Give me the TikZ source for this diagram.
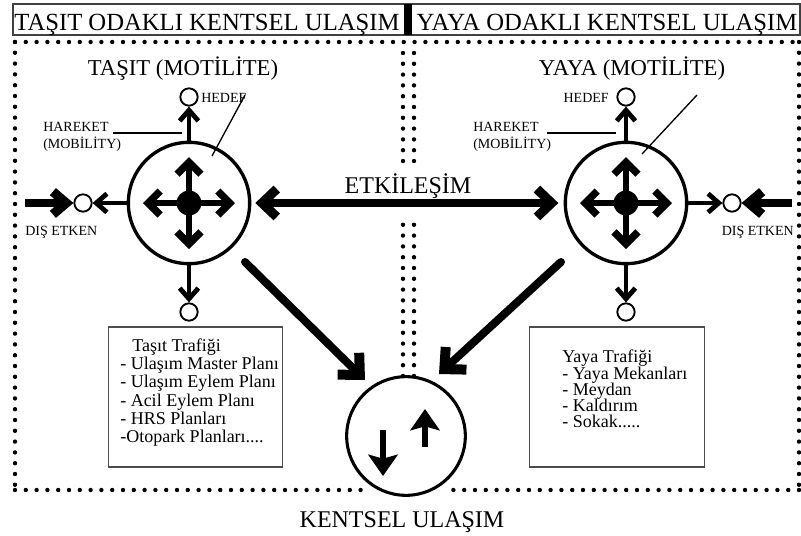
\documentclass[tikz,border=0pt]{standalone}
\usepackage{fontspec}
\setmainfont{Liberation Serif}
\usetikzlibrary{arrows.meta}
\begin{document}
\begin{tikzpicture}[x=0.75pt,y=-0.75pt,
  dots/.style={line width=3.3pt, line cap=round, dash pattern=on 0pt off 8.1pt},
  bigc/.style={circle, draw, line width=2.5pt, minimum size=91pt, inner sep=0pt, fill=white},
  smallc/.style={circle, draw, line width=1.4pt, minimum size=13pt, inner sep=0pt, fill=white},
  thinarr/.style={line width=3pt, -{Straight Barb[length=8pt,width=14pt,line width=3.6pt]}},
  thickarr/.style={line width=6pt, -{Straight Barb[length=10pt,width=17pt,line width=7pt]}},
  etk/.style={line width=6pt, {Straight Barb[length=11pt,width=21pt,line width=7pt]}-{Straight Barb[length=11pt,width=21pt,line width=7pt]}},
  ctr/.style={line width=3.8pt, {Straight Barb[length=9pt,width=18pt,line width=5.5pt]}-{Straight Barb[length=9pt,width=18pt,line width=5.5pt]}},
  diag/.style={line width=6pt, line cap=round, -{Straight Barb[length=12pt,width=23pt,line width=7.5pt]}},
  solidarr/.style={line width=4.5pt, -{Stealth[length=16pt,width=22pt,inset=3pt]}},
  ann/.style={line width=1pt},
  hdr/.style={font=\fontsize{18.5}{20}\selectfont, inner sep=0pt},
  ttl/.style={font=\fontsize{17}{19}\selectfont, inner sep=0pt},
  lab/.style={font=\fontsize{10.5}{12}\selectfont, inner sep=0pt},
  boxtxt/.style={font=\fontsize{13.5}{15}\selectfont, inner sep=0pt, anchor=base west},
  tbox/.style={draw=black!70, line width=0.8pt, minimum width=131pt, minimum height=105pt, inner sep=0pt},
  cross/.pic={
    \draw[ctr] (-46,0) -- (46,0);
    \draw[ctr] (0,-46) -- (0,46);
    \fill (0,0) circle (9.4pt);
  }]
\useasboundingbox[fill=white] (0,0) rectangle (801,536);

% header
\draw[line width=0.8pt, black!75] (13,4) rectangle (800,35);
\fill (404,4) rectangle (412,35);
\node[hdr, anchor=base] (hL) at (207,30) {TAŞIT ODAKLI KENTSEL ULAŞIM};
\node[hdr, anchor=base] (hR) at (607,30) {YAYA ODAKLI KENTSEL ULAŞIM};

% dotted frames
\draw[dots] (15,42) -- (799,42);
\draw[dots] (15,42) -- (15,490);
\draw[dots] (799,42) -- (799,490);
\draw[dots] (15,490) -- (362,490);
\draw[dots] (799,490) -- (445,490);
\draw[dots] (403,53) -- (403,163);
\draw[dots] (414,53) -- (414,163);
\draw[dots] (403,376) -- (403,218);
\draw[dots] (414,376) -- (414,218);

% titles
\node[ttl, anchor=base] (tiL) at (183,75) {TAŞIT (MOTİLİTE)};
\node[ttl, anchor=base] (tiR) at (632,75) {YAYA (MOTİLİTE)};

% big circles
\node[bigc] (bigL) at (189,203) {};
\pic at (189,203) {cross};
\node[bigc] (bigR) at (626,203) {};
\pic at (626,203) {cross};

% small circles
\node[smallc] (tL) at (189,97) {};
\node[smallc] (bL) at (189,312) {};
\node[smallc] (sL) at (83,203) {};
\node[smallc] (tR) at (626,97) {};
\node[smallc] (bR) at (626,312) {};
\node[smallc] (sR) at (732,203) {};

\draw[thinarr] (bigL) -- (tL);
\draw[thinarr] (bigL) -- (bL);
\draw[thinarr] (bigL) -- (sL);
\draw[thinarr] (bigR) -- (tR);
\draw[thinarr] (bigR) -- (bR);
\draw[thinarr] (bigR) -- (sR);

\coordinate (eL) at (25,203);
\coordinate (eR) at (792,203);
\draw[thickarr] (eL) -- (sL);
\draw[thickarr] (eR) -- (sR);

% interaction
\draw[etk, shorten <=3pt, shorten >=4pt] (bigL) -- (bigR);
\node[font=\fontsize{18}{20}\selectfont, inner sep=0pt, anchor=base] (etkT) at (408,193) {ETKİLEŞİM};

% labels
\node[lab, anchor=base west] (hedL) at (201,102) {HEDEF};
\node[lab, anchor=base east] (hedR) at (609,102) {HEDEF};
\node[lab, anchor=base west] (harL) at (43,131) {HAREKET};
\node[lab, anchor=base west] (mobL) at (43,148) {(MOBİLİTY)};
\node[lab, anchor=base west] (harR) at (473,131) {HAREKET};
\node[lab, anchor=base west] (mobR) at (473,148) {(MOBİLİTY)};
\node[lab, anchor=base west] (dsL) at (25,235) {DIŞ ETKEN};
\node[lab, anchor=base east] (dsR) at (794,235) {DIŞ ETKEN};

\draw[ann] (113,133) -- (182,133);
\draw[ann] (547,133) -- (616,133);
\draw[ann] (212,156) -- (245,95);
\draw[ann] (642,154) -- (697,95);

% bottom circle
\node[bigc, line width=2.3pt, minimum size=89pt] (bot) at (406,436) {};
\draw[solidarr] (383,430) -- (383,476);
\draw[solidarr] (425,447) -- (425,409);

\coordinate (dL1) at (245,262);
\coordinate (dL2) at (365,380);
\coordinate (dR1) at (561,262);
\coordinate (dR2) at (439,374);
\draw[diag] (dL1) -- (dL2);
\draw[diag] (dR1) -- (dR2);

\node[hdr, font=\fontsize{18}{20}\selectfont, anchor=base] (kent) at (402,527) {KENTSEL ULAŞIM};

% text boxes
\node[tbox] (boxL) at (195.5,397) {};
\node[boxtxt] (l1) at (132,351) {Taşıt Trafiği};
\node[boxtxt] (l2) at (120,369) {- Ulaşım Master Planı};
\node[boxtxt] (l3) at (120,387) {- Ulaşım Eylem Planı};
\node[boxtxt] (l4) at (120,406) {- Acil Eylem Planı};
\node[boxtxt] (l5) at (120,424) {- HRS Planları};
\node[boxtxt] (l6) at (120,442) {-Otopark Planları....};

\node[tbox] (boxR) at (617,397) {};
\node[boxtxt] (r1) at (562,362) {Yaya Trafiği};
\node[boxtxt] (r2) at (562,379) {- Yaya Mekanları};
\node[boxtxt] (r3) at (562,395) {- Meydan};
\node[boxtxt] (r4) at (562,411) {- Kaldırım};
\node[boxtxt] (r5) at (562,427) {- Sokak.....};
\end{tikzpicture}
\end{document}
